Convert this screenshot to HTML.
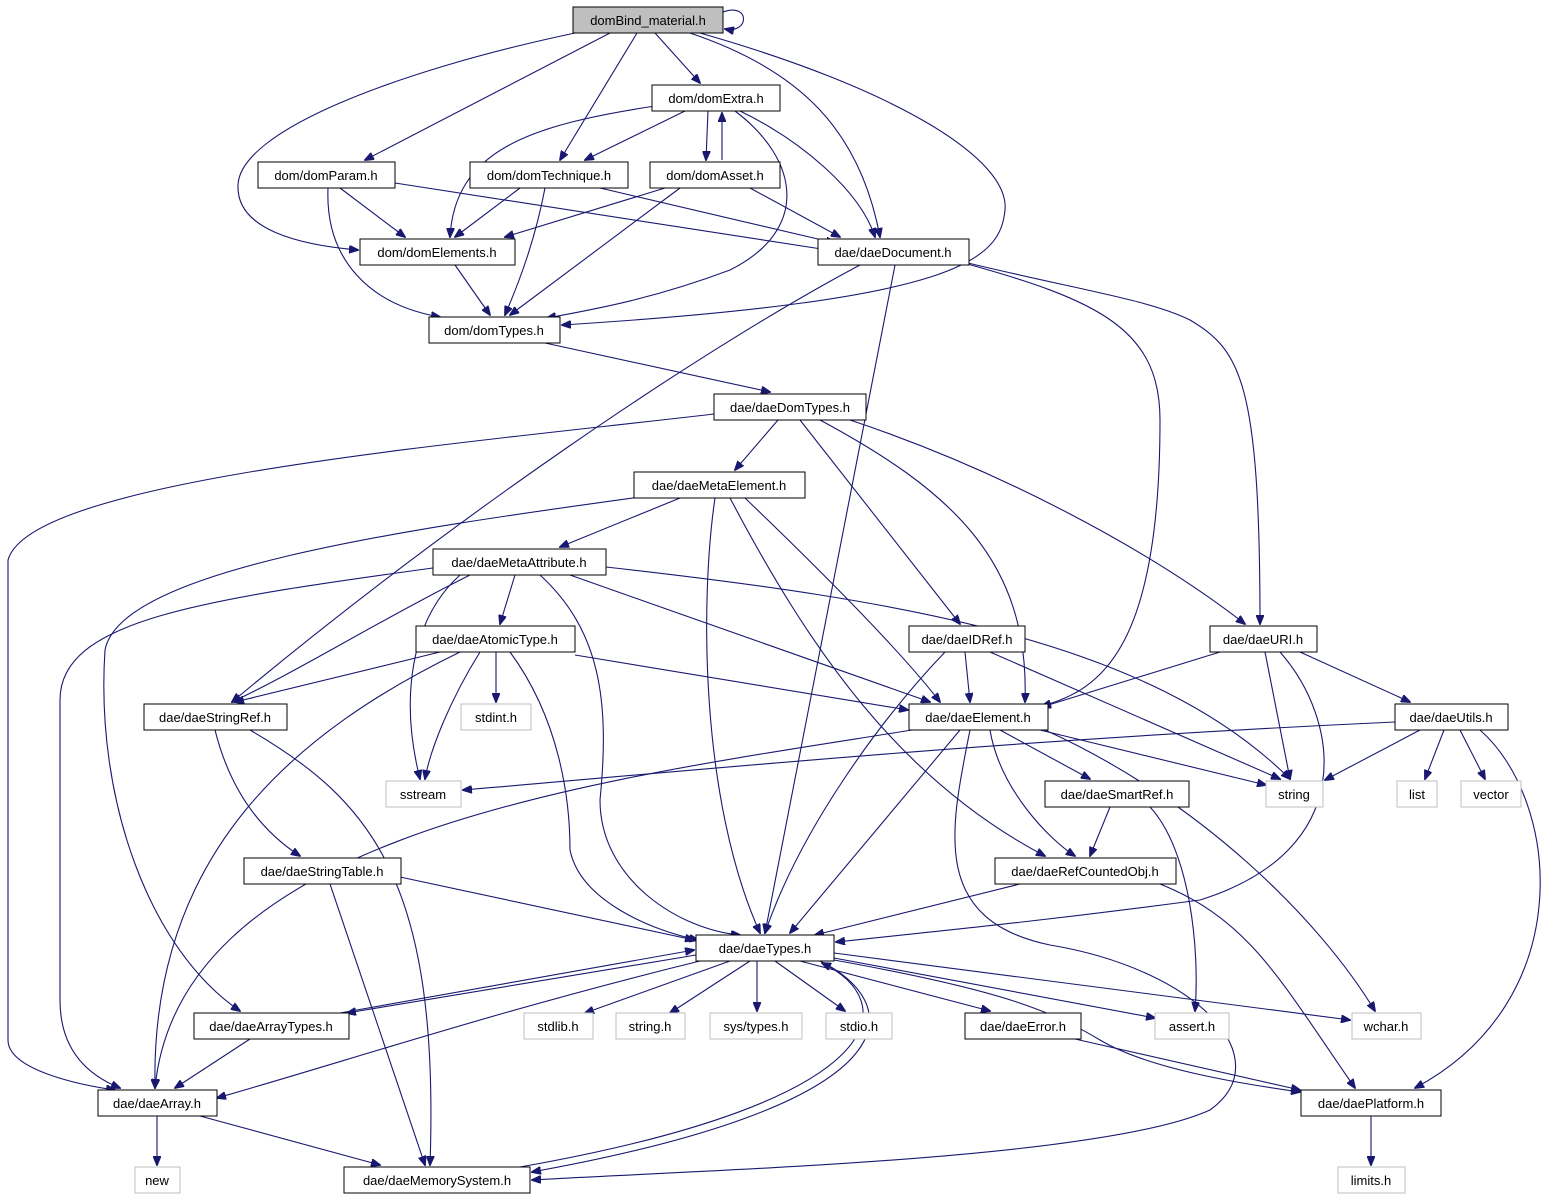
<!DOCTYPE html>
<html><head><meta charset="utf-8"><style>
html,body{margin:0;padding:0;background:#fff;}
svg{display:block;}
text{font-family:"Liberation Sans",sans-serif;font-size:13px;fill:#000;}
.e{fill:none;stroke:#191970;stroke-width:1.1;marker-end:url(#a);}
.n{fill:#fff;stroke:#000;stroke-width:1;}
.g{fill:#fff;stroke:#bfbfbf;stroke-width:1;}
</style></head><body>
<svg width="1564" height="1200" viewBox="0 0 1564 1200" xmlns="http://www.w3.org/2000/svg">
<defs><marker id="a" markerWidth="10" markerHeight="8" refX="9" refY="4" orient="auto" markerUnits="userSpaceOnUse"><path d="M0,0 L10,4 L0,8 z" fill="#191970" stroke="#191970"/></marker></defs>
<g>
<path class="e" d="M723,12 C750,2 750,34 725,29"/>
<path class="e" d="M575,33 C400,70 240,130 238,185 C236,230 300,245 358,250"/>
<path class="e" d="M610,33 L365,160"/>
<path class="e" d="M637,33 L560,160"/>
<path class="e" d="M655,33 L700,83"/>
<path class="e" d="M690,33 C800,70 860,130 880,237"/>
<path class="e" d="M700,33 C900,90 1010,160 1005,210 C1000,260 960,300 562,325"/>
<path class="e" d="M685,111 L585,160"/>
<path class="e" d="M655,106 C530,125 455,150 450,237"/>
<path class="e" d="M708,111 L706,160"/>
<path class="e" d="M722,160 L722,113"/>
<path class="e" d="M740,111 C800,140 860,190 875,237"/>
<path class="e" d="M735,111 C800,160 810,230 730,270 C650,300 590,310 547,318"/>
<path class="e" d="M340,188 L405,237"/>
<path class="e" d="M328,188 C325,260 370,305 440,317"/>
<path class="e" d="M395,183 L828,250"/>
<path class="e" d="M520,188 L455,237"/>
<path class="e" d="M545,188 C535,240 520,280 505,315"/>
<path class="e" d="M600,188 L835,243"/>
<path class="e" d="M665,188 L505,237"/>
<path class="e" d="M680,188 L510,315"/>
<path class="e" d="M750,188 L840,237"/>
<path class="e" d="M455,265 L490,315"/>
<path class="e" d="M860,265 C700,350 450,520 232,702"/>
<path class="e" d="M895,265 L765,933"/>
<path class="e" d="M960,262 C1100,300 1160,330 1160,420 C1160,650 1100,690 1042,706"/>
<path class="e" d="M968,263 C1080,290 1150,300 1190,320 C1240,350 1260,380 1260,624"/>
<path class="e" d="M545,343 L770,392"/>
<path class="e" d="M714,414 C450,445 30,480 8,560 L8,1040 C8,1070 80,1085 115,1090"/>
<path class="e" d="M778,420 L735,470"/>
<path class="e" d="M800,420 L960,624"/>
<path class="e" d="M820,420 C950,490 1030,560 1025,702"/>
<path class="e" d="M850,420 C1000,470 1150,550 1245,624"/>
<path class="e" d="M680,498 L560,547"/>
<path class="e" d="M640,497 C400,530 120,570 105,650 C95,800 150,950 240,1011"/>
<path class="e" d="M715,498 C700,600 700,800 760,933"/>
<path class="e" d="M745,498 C820,570 900,650 940,702"/>
<path class="e" d="M730,498 C810,650 900,780 1045,856"/>
<path class="e" d="M440,567 C200,600 60,620 60,700 L60,1000 C60,1060 100,1080 120,1088"/>
<path class="e" d="M470,575 C380,620 300,670 232,702"/>
<path class="e" d="M460,575 C410,620 400,700 420,779"/>
<path class="e" d="M515,575 L500,624"/>
<path class="e" d="M540,575 C600,630 610,700 600,800 C600,880 680,930 740,935"/>
<path class="e" d="M570,575 L930,702"/>
<path class="e" d="M606,567 C900,600 1150,640 1290,779"/>
<path class="e" d="M440,652 L235,702"/>
<path class="e" d="M460,652 C300,730 150,850 155,1088"/>
<path class="e" d="M480,652 C450,700 430,750 425,779"/>
<path class="e" d="M496,652 L496,702"/>
<path class="e" d="M510,652 C560,720 570,800 570,850 C580,900 650,930 698,940"/>
<path class="e" d="M575,655 L908,710"/>
<path class="e" d="M945,652 C880,720 800,830 765,933"/>
<path class="e" d="M965,652 L970,702"/>
<path class="e" d="M990,652 L1280,779"/>
<path class="e" d="M1220,652 L1042,707"/>
<path class="e" d="M1265,652 L1290,779"/>
<path class="e" d="M1280,652 C1340,720 1360,850 1200,900 C1050,920 950,930 836,942"/>
<path class="e" d="M1300,652 L1410,702"/>
<path class="e" d="M215,730 C230,790 260,830 300,856"/>
<path class="e" d="M250,730 C370,800 440,880 430,1165"/>
<path class="e" d="M912,730 C600,780 180,830 155,1088"/>
<path class="e" d="M960,730 L790,933"/>
<path class="e" d="M990,730 C1000,790 1050,840 1075,856"/>
<path class="e" d="M1000,730 L1090,779"/>
<path class="e" d="M1040,730 L1266,785"/>
<path class="e" d="M1045,730 C1200,800 1320,920 1375,1011"/>
<path class="e" d="M970,730 C950,830 930,920 1050,945 C1200,970 1280,1060 1210,1110 C1100,1160 700,1170 532,1180"/>
<path class="e" d="M1395,722 C1000,740 700,770 463,790"/>
<path class="e" d="M1420,730 L1325,780"/>
<path class="e" d="M1444,730 L1425,779"/>
<path class="e" d="M1460,730 L1485,779"/>
<path class="e" d="M1480,730 C1560,800 1580,1000 1415,1088"/>
<path class="e" d="M1110,807 L1090,856"/>
<path class="e" d="M1150,807 C1190,850 1200,950 1195,1011"/>
<path class="e" d="M400,877 L694,940"/>
<path class="e" d="M330,884 L425,1165"/>
<path class="e" d="M1020,884 L815,935"/>
<path class="e" d="M1160,884 C1250,920 1280,980 1355,1088"/>
<path class="e" d="M696,955 L347,1013"/>
<path class="e" d="M340,1013 L694,950"/>
<path class="e" d="M700,961 C500,1010 350,1060 217,1098"/>
<path class="e" d="M730,961 L585,1013"/>
<path class="e" d="M750,961 L670,1013"/>
<path class="e" d="M757,961 L757,1011"/>
<path class="e" d="M775,961 L845,1011"/>
<path class="e" d="M800,961 L990,1011"/>
<path class="e" d="M834,958 L1155,1018"/>
<path class="e" d="M834,953 L1350,1020"/>
<path class="e" d="M834,960 C1000,990 1050,1010 1100,1040 C1150,1070 1250,1085 1300,1092"/>
<path class="e" d="M820,961 C900,1000 930,1100 532,1172"/>
<path class="e" d="M520,1167 C900,1100 900,1000 822,963"/>
<path class="e" d="M250,1039 L175,1088"/>
<path class="e" d="M157,1116 L157,1165"/>
<path class="e" d="M200,1116 L380,1165"/>
<path class="e" d="M1075,1039 L1300,1090"/>
<path class="e" d="M1371,1116 L1371,1165"/>
</g>
<g>
<rect x="573" y="7" width="150" height="26" fill="#bfbfbf" stroke="#000"/><text x="648" y="25" text-anchor="middle">domBind_material.h</text>
<rect class="n" x="652" y="85" width="128" height="26"/><text x="716" y="103" text-anchor="middle">dom/domExtra.h</text>
<rect class="n" x="258" y="162" width="137" height="26"/><text x="326" y="180" text-anchor="middle">dom/domParam.h</text>
<rect class="n" x="470" y="162" width="158" height="26"/><text x="549" y="180" text-anchor="middle">dom/domTechnique.h</text>
<rect class="n" x="650" y="162" width="130" height="26"/><text x="715" y="180" text-anchor="middle">dom/domAsset.h</text>
<rect class="n" x="360" y="239" width="155" height="26"/><text x="437" y="257" text-anchor="middle">dom/domElements.h</text>
<rect class="n" x="818" y="239" width="151" height="26"/><text x="893" y="257" text-anchor="middle">dae/daeDocument.h</text>
<rect class="n" x="429" y="317" width="131" height="26"/><text x="494" y="335" text-anchor="middle">dom/domTypes.h</text>
<rect class="n" x="714" y="394" width="152" height="26"/><text x="790" y="412" text-anchor="middle">dae/daeDomTypes.h</text>
<rect class="n" x="634" y="472" width="171" height="26"/><text x="719" y="490" text-anchor="middle">dae/daeMetaElement.h</text>
<rect class="n" x="433" y="549" width="173" height="26"/><text x="519" y="567" text-anchor="middle">dae/daeMetaAttribute.h</text>
<rect class="n" x="416" y="626" width="159" height="26"/><text x="495" y="644" text-anchor="middle">dae/daeAtomicType.h</text>
<rect class="n" x="909" y="626" width="116" height="26"/><text x="967" y="644" text-anchor="middle">dae/daeIDRef.h</text>
<rect class="n" x="1210" y="626" width="107" height="26"/><text x="1263" y="644" text-anchor="middle">dae/daeURI.h</text>
<rect class="n" x="144" y="704" width="143" height="26"/><text x="215" y="722" text-anchor="middle">dae/daeStringRef.h</text>
<rect class="g" x="461" y="704" width="70" height="26"/><text x="496" y="722" text-anchor="middle">stdint.h</text>
<rect class="n" x="909" y="704" width="139" height="26"/><text x="978" y="722" text-anchor="middle">dae/daeElement.h</text>
<rect class="n" x="1395" y="704" width="113" height="26"/><text x="1451" y="722" text-anchor="middle">dae/daeUtils.h</text>
<rect class="g" x="386" y="781" width="75" height="26"/><text x="423" y="799" text-anchor="middle">sstream</text>
<rect class="g" x="1266" y="781" width="57" height="26"/><text x="1294" y="799" text-anchor="middle">string</text>
<rect class="g" x="1397" y="781" width="40" height="26"/><text x="1417" y="799" text-anchor="middle">list</text>
<rect class="g" x="1461" y="781" width="60" height="26"/><text x="1491" y="799" text-anchor="middle">vector</text>
<rect class="n" x="1045" y="781" width="144" height="26"/><text x="1117" y="799" text-anchor="middle">dae/daeSmartRef.h</text>
<rect class="n" x="244" y="858" width="157" height="26"/><text x="322" y="876" text-anchor="middle">dae/daeStringTable.h</text>
<rect class="n" x="995" y="858" width="181" height="26"/><text x="1085" y="876" text-anchor="middle">dae/daeRefCountedObj.h</text>
<rect class="n" x="696" y="935" width="138" height="26"/><text x="765" y="953" text-anchor="middle">dae/daeTypes.h</text>
<rect class="n" x="194" y="1013" width="155" height="26"/><text x="271" y="1031" text-anchor="middle">dae/daeArrayTypes.h</text>
<rect class="g" x="524" y="1013" width="69" height="26"/><text x="558" y="1031" text-anchor="middle">stdlib.h</text>
<rect class="g" x="616" y="1013" width="69" height="26"/><text x="650" y="1031" text-anchor="middle">string.h</text>
<rect class="g" x="710" y="1013" width="92" height="26"/><text x="756" y="1031" text-anchor="middle">sys/types.h</text>
<rect class="g" x="826" y="1013" width="66" height="26"/><text x="859" y="1031" text-anchor="middle">stdio.h</text>
<rect class="n" x="965" y="1013" width="116" height="26"/><text x="1023" y="1031" text-anchor="middle">dae/daeError.h</text>
<rect class="g" x="1155" y="1013" width="74" height="26"/><text x="1192" y="1031" text-anchor="middle">assert.h</text>
<rect class="g" x="1352" y="1013" width="69" height="26"/><text x="1386" y="1031" text-anchor="middle">wchar.h</text>
<rect class="n" x="98" y="1090" width="119" height="26"/><text x="157" y="1108" text-anchor="middle">dae/daeArray.h</text>
<rect class="n" x="1301" y="1090" width="140" height="26"/><text x="1371" y="1108" text-anchor="middle">dae/daePlatform.h</text>
<rect class="g" x="135" y="1167" width="45" height="26"/><text x="157" y="1185" text-anchor="middle">new</text>
<rect class="n" x="344" y="1167" width="186" height="26"/><text x="437" y="1185" text-anchor="middle">dae/daeMemorySystem.h</text>
<rect class="g" x="1338" y="1167" width="67" height="26"/><text x="1371" y="1185" text-anchor="middle">limits.h</text>
</g>
</svg>
</body></html>
